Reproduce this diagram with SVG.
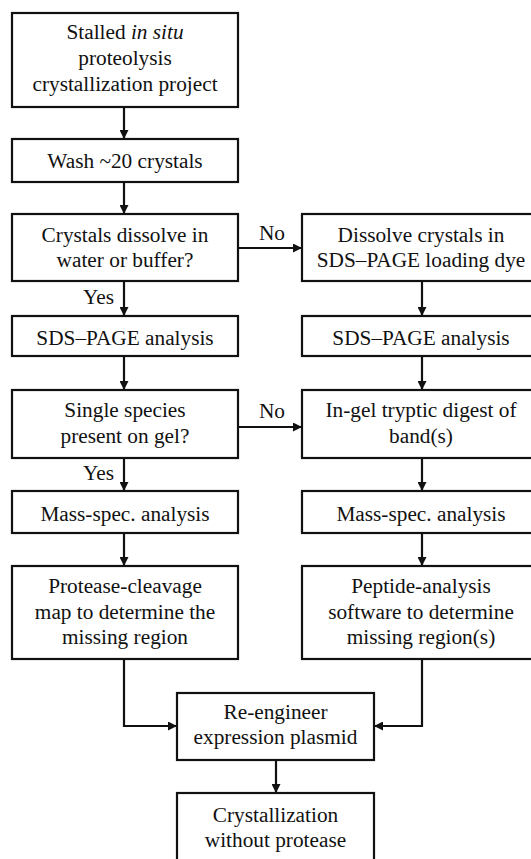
<svg xmlns="http://www.w3.org/2000/svg" width="531" height="859" viewBox="0 0 531 859" font-family="Liberation Serif, Times New Roman, serif" font-size="21.3">
<style>
.box{fill:#fff;stroke:#111;stroke-width:2.2}
.t{fill:#111;text-anchor:middle}
.lbl{fill:#111}
.c{fill:none;stroke:#111;stroke-width:2.2}
</style>
<defs>
<marker id="ah" markerUnits="userSpaceOnUse" markerWidth="10" markerHeight="9" refX="9" refY="4.5" orient="auto">
<path d="M0,0 L9,4.5 L0,9 z" fill="#111"/>
</marker>
</defs>
<rect width="531" height="859" fill="#fff"/>
<g id="connectors">
<line class="c" x1="124" y1="107" x2="124" y2="139" marker-end="url(#ah)"/>
<line class="c" x1="124" y1="182" x2="124" y2="214" marker-end="url(#ah)"/>
<line class="c" x1="238" y1="248" x2="302" y2="248" marker-end="url(#ah)"/>
<line class="c" x1="124" y1="281" x2="124" y2="316" marker-end="url(#ah)"/>
<line class="c" x1="422" y1="281" x2="422" y2="316" marker-end="url(#ah)"/>
<line class="c" x1="124" y1="356" x2="124" y2="390" marker-end="url(#ah)"/>
<line class="c" x1="422" y1="356" x2="422" y2="390" marker-end="url(#ah)"/>
<line class="c" x1="238" y1="427" x2="302" y2="427" marker-end="url(#ah)"/>
<line class="c" x1="124" y1="458" x2="124" y2="491" marker-end="url(#ah)"/>
<line class="c" x1="422" y1="458" x2="422" y2="491" marker-end="url(#ah)"/>
<line class="c" x1="124" y1="533" x2="124" y2="566" marker-end="url(#ah)"/>
<line class="c" x1="422" y1="533" x2="422" y2="566" marker-end="url(#ah)"/>
<polyline class="c" points="124,659 124,726 177,726" marker-end="url(#ah)"/>
<polyline class="c" points="422,659 422,726 374,726" marker-end="url(#ah)"/>
<line class="c" x1="276" y1="760" x2="276" y2="793" marker-end="url(#ah)"/>
<text class="lbl" x="272" y="240" text-anchor="middle">No</text>
<text class="lbl" x="272" y="418" text-anchor="middle">No</text>
<text class="lbl" x="114" y="304" text-anchor="end">Yes</text>
<text class="lbl" x="114" y="480" text-anchor="end">Yes</text>
</g>
<g id="n1"><rect class="box" x="12" y="13" width="226" height="94"/>
<text class="t" x="125" y="39">Stalled <tspan font-style="italic">in situ</tspan></text>
<text class="t" x="125" y="65">proteolysis</text>
<text class="t" x="125" y="91">crystallization project</text></g>
<g id="n2"><rect class="box" x="12" y="139" width="226" height="43"/>
<text class="t" x="125" y="168">Wash ~20 crystals</text></g>
<g id="n3"><rect class="box" x="12" y="214" width="226" height="67"/>
<text class="t" x="125" y="242">Crystals dissolve in</text>
<text class="t" x="125" y="267">water or buffer?</text></g>
<g id="n4"><rect class="box" x="302" y="214" width="240" height="67"/>
<text class="t" x="421" y="242">Dissolve crystals in</text>
<text class="t" x="421" y="267">SDS–PAGE loading dye</text></g>
<g id="n5"><rect class="box" x="12" y="316" width="226" height="40"/>
<text class="t" x="125" y="345">SDS–PAGE analysis</text></g>
<g id="n6"><rect class="box" x="302" y="316" width="240" height="40"/>
<text class="t" x="421" y="345">SDS–PAGE analysis</text></g>
<g id="n7"><rect class="box" x="12" y="390" width="226" height="68"/>
<text class="t" x="125" y="417">Single species</text>
<text class="t" x="125" y="443">present on gel?</text></g>
<g id="n8"><rect class="box" x="302" y="390" width="240" height="68"/>
<text class="t" x="421" y="417">In-gel tryptic digest of</text>
<text class="t" x="421" y="443">band(s)</text></g>
<g id="n9"><rect class="box" x="12" y="491" width="226" height="42"/>
<text class="t" x="125" y="521">Mass-spec. analysis</text></g>
<g id="n10"><rect class="box" x="302" y="491" width="240" height="42"/>
<text class="t" x="421" y="521">Mass-spec. analysis</text></g>
<g id="n11"><rect class="box" x="12" y="566" width="226" height="93"/>
<text class="t" x="125" y="593">Protease-cleavage</text>
<text class="t" x="125" y="619">map to determine the</text>
<text class="t" x="125" y="644">missing region</text></g>
<g id="n12"><rect class="box" x="302" y="566" width="240" height="93"/>
<text class="t" x="421" y="593">Peptide-analysis</text>
<text class="t" x="421" y="619">software to determine</text>
<text class="t" x="421" y="644">missing region(s)</text></g>
<g id="n13"><rect class="box" x="177" y="693" width="197" height="67"/>
<text class="t" x="275.5" y="719">Re-engineer</text>
<text class="t" x="275.5" y="744">expression plasmid</text></g>
<g id="n14"><rect class="box" x="177" y="793" width="197" height="80"/>
<text class="t" x="275.5" y="822">Crystallization</text>
<text class="t" x="275.5" y="847">without protease</text></g>
</svg>
